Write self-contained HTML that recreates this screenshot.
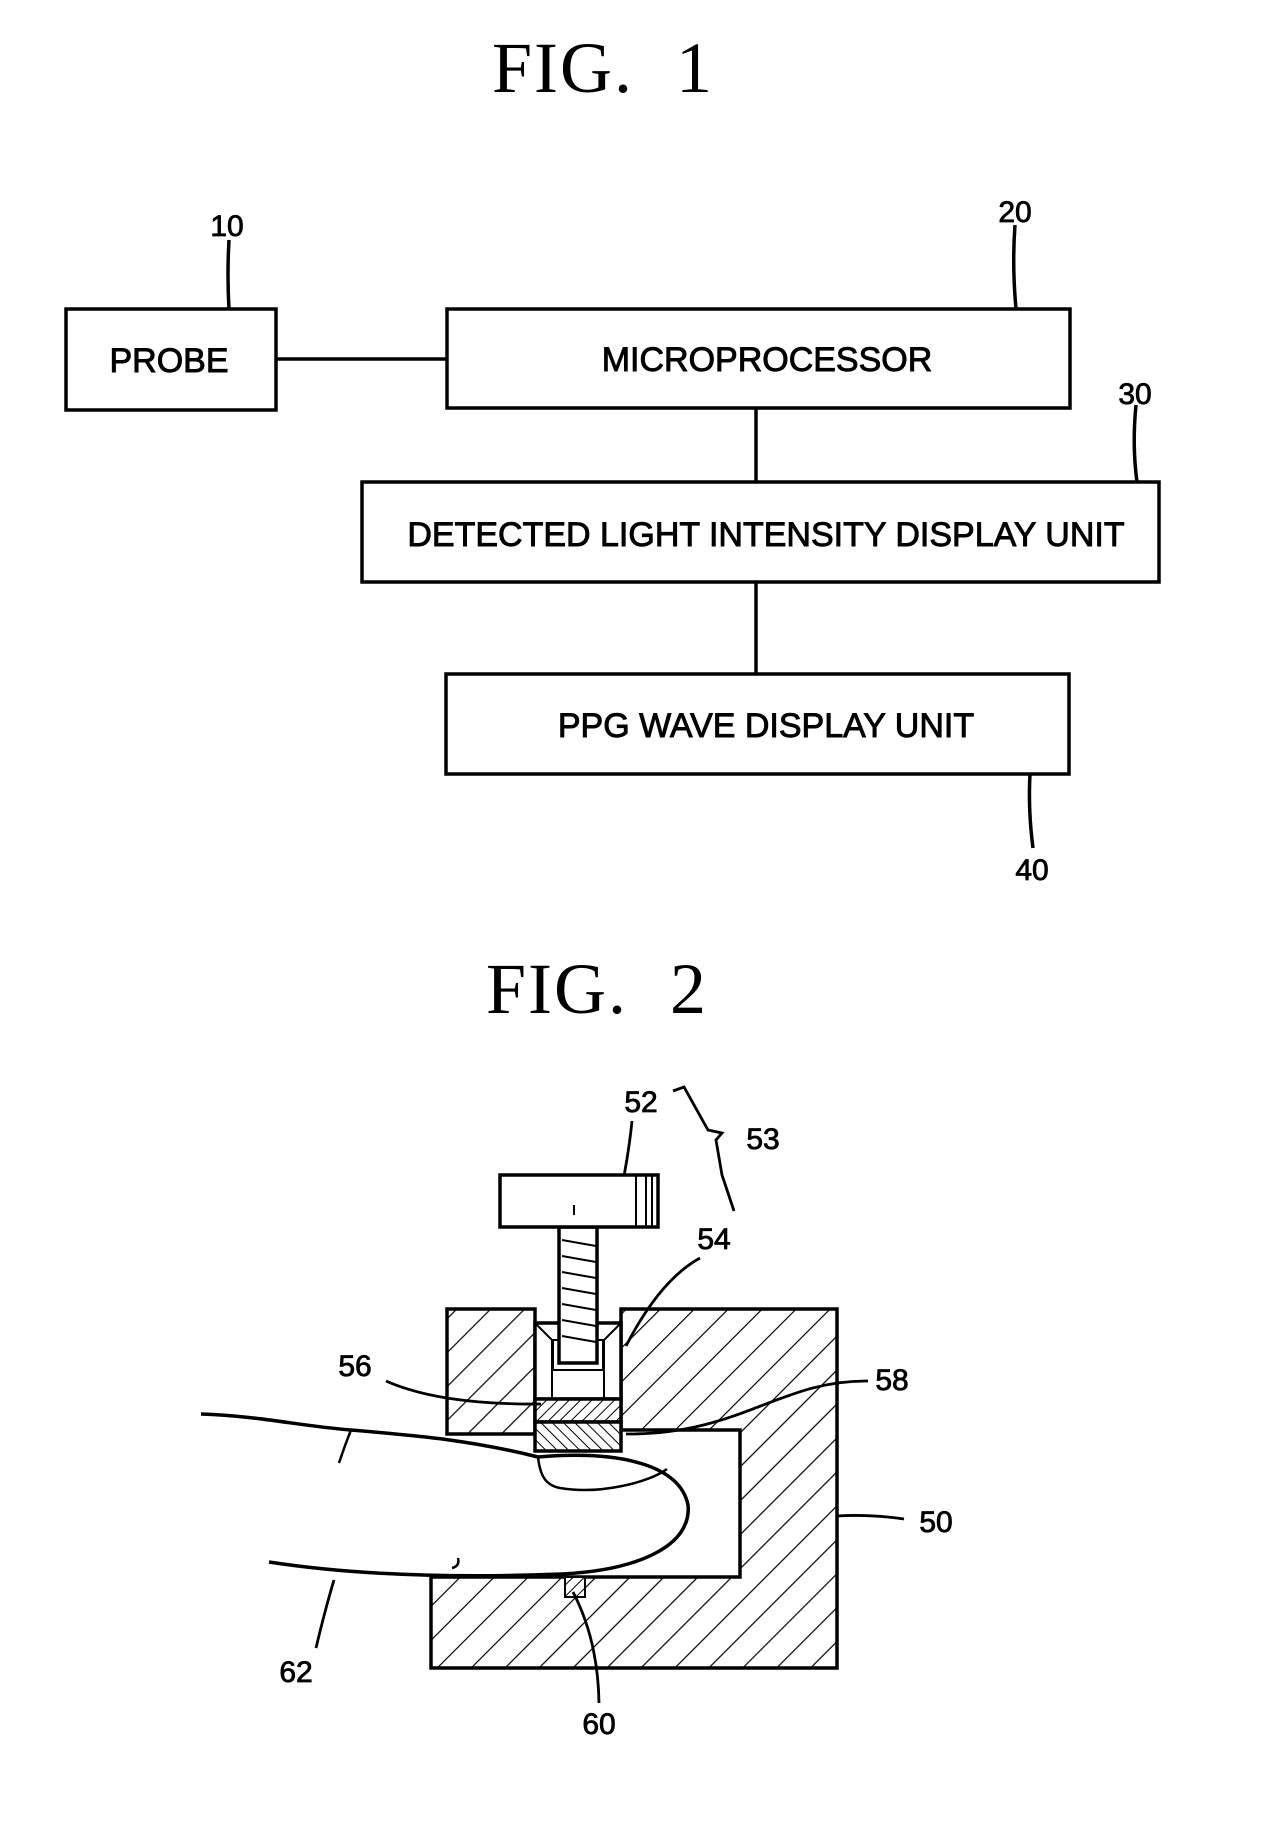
<!DOCTYPE html>
<html><head><style>
html,body{margin:0;padding:0;background:#fff;}
svg{display:block}
text{font-family:"Liberation Sans",sans-serif;fill:#000}
.t{font-family:"Liberation Serif",serif;font-size:72px;word-spacing:22px;letter-spacing:2px}
.b{font-size:34px;stroke:#000;stroke-width:0.9}
.n{font-size:30px;stroke:#000;stroke-width:0.8}
</style></head><body>
<svg width="1264" height="1843" viewBox="0 0 1264 1843" xmlns="http://www.w3.org/2000/svg">
<defs>
<pattern id="h" patternUnits="userSpaceOnUse" width="24" height="24" patternTransform="rotate(45)">
<rect width="24" height="24" fill="#fff"/><line x1="0" y1="0" x2="0" y2="24" stroke="#000" stroke-width="2.4"/></pattern>
<pattern id="h2" patternUnits="userSpaceOnUse" width="8" height="8" patternTransform="rotate(45)">
<rect width="8" height="8" fill="#fff"/><line x1="0" y1="0" x2="0" y2="8" stroke="#000" stroke-width="2"/></pattern>
<pattern id="h3" patternUnits="userSpaceOnUse" width="8" height="8" patternTransform="rotate(-45)">
<rect width="8" height="8" fill="#fff"/><line x1="0" y1="0" x2="0" y2="8" stroke="#000" stroke-width="2"/></pattern>
</defs>
<g fill="none" stroke="#000" stroke-width="3.5">
<text class="t" x="603" y="92" text-anchor="middle" stroke="none">FIG. 1</text>
<rect x="66" y="309" width="210" height="101"/>
<rect x="447" y="309" width="623" height="99"/>
<rect x="362" y="482" width="797" height="100"/>
<rect x="446" y="674" width="623" height="100"/>
<line x1="276" y1="359" x2="447" y2="359"/>
<line x1="756" y1="408" x2="756" y2="482"/>
<line x1="756" y1="582" x2="756" y2="674"/>
<path d="M229 240 Q227 275 229 309"/>
<path d="M1015 225 Q1012 265 1016 309"/>
<path d="M1136 405 Q1132 445 1137 482"/>
<path d="M1030 774 Q1028 810 1033 848"/>
</g>
<text class="b" x="169" y="372" text-anchor="middle">PROBE</text>
<text class="b" x="767" y="371" text-anchor="middle">MICROPROCESSOR</text>
<text class="b" x="766" y="546" text-anchor="middle">DETECTED LIGHT INTENSITY DISPLAY UNIT</text>
<text class="b" x="766" y="737" text-anchor="middle">PPG WAVE DISPLAY UNIT</text>
<text class="n" x="227" y="236" text-anchor="middle">10</text>
<text class="n" x="1015" y="222" text-anchor="middle">20</text>
<text class="n" x="1135" y="404" text-anchor="middle">30</text>
<text class="n" x="1032" y="880" text-anchor="middle">40</text>

<text class="t" x="597" y="1013" text-anchor="middle">FIG. 2</text>
<g stroke="#000" stroke-width="3.5">
<rect x="447" y="1309" width="88" height="125" fill="url(#h)"/>
<path d="M621 1309 H837 V1668 H431 V1577 H740 V1430 H621 Z" fill="url(#h)"/>
<path d="M535 1323 H621 V1399 H535 Z" fill="#fff"/>
<path d="M535 1323 L552 1340 V1399 M621 1323 L604 1340 V1399" fill="none" stroke-width="2"/>
<rect x="553" y="1340" width="50" height="30" fill="#fff" stroke-width="2"/>
<rect x="535" y="1399" width="86" height="23" fill="url(#h2)"/>
<rect x="535" y="1422" width="86" height="29" fill="url(#h3)"/>
<rect x="565" y="1577" width="20" height="20" fill="url(#h2)" stroke-width="2"/>
<rect x="559" y="1227" width="38" height="136" fill="#fff"/>
<path d="M562 1240 l34 6 M562 1256 l34 6 M562 1272 l34 6 M562 1288 l34 6 M562 1304 l34 6 M562 1320 l34 6 M562 1336 l34 6" stroke-width="2" fill="none"/>
<rect x="500" y="1175" width="158" height="52" fill="#fff"/>
<path d="M636 1175 V1227 M646 1175 V1227 M652 1175 V1227 M574 1205 V1215" fill="none" stroke-width="2"/>
<path d="M201 1414 C260 1416 300 1426 351 1430 C420 1436 470 1440 538 1457 C620 1450 680 1465 688 1505 C692 1545 640 1570 562 1574 C460 1578 360 1576 269 1562" fill="#fff"/>
<path d="M538 1457 C540 1475 545 1485 560 1488 C600 1495 650 1482 667 1469" fill="none" stroke-width="2.5"/>
<path d="M351 1430 Q345 1445 339 1463 M452 1568 q8 -2 6 -10" fill="none" stroke-width="2.5"/>
<g fill="none" stroke-width="2.8">
<path d="M632 1121 Q629 1150 624 1176"/>
<path d="M673 1091 L684 1087 L708 1130 L722 1133 L716 1140 L722 1175 L734 1211"/>
<path d="M700 1258 Q660 1280 626 1346"/>
<path d="M386 1381 Q440 1405 541 1404"/>
<path d="M868 1381 C780 1380 740 1435 626 1434"/>
<path d="M904 1519 Q870 1514 837 1516"/>
<path d="M316 1648 Q325 1610 334 1580"/>
<path d="M599 1703 Q598 1640 573 1592"/>
</g>
</g>
<text class="n" x="641" y="1112" text-anchor="middle">52</text>
<text class="n" x="763" y="1149" text-anchor="middle">53</text>
<text class="n" x="714" y="1249" text-anchor="middle">54</text>
<text class="n" x="355" y="1376" text-anchor="middle">56</text>
<text class="n" x="892" y="1390" text-anchor="middle">58</text>
<text class="n" x="936" y="1532" text-anchor="middle">50</text>
<text class="n" x="296" y="1682" text-anchor="middle">62</text>
<text class="n" x="599" y="1734" text-anchor="middle">60</text>
</svg>
</body></html>
